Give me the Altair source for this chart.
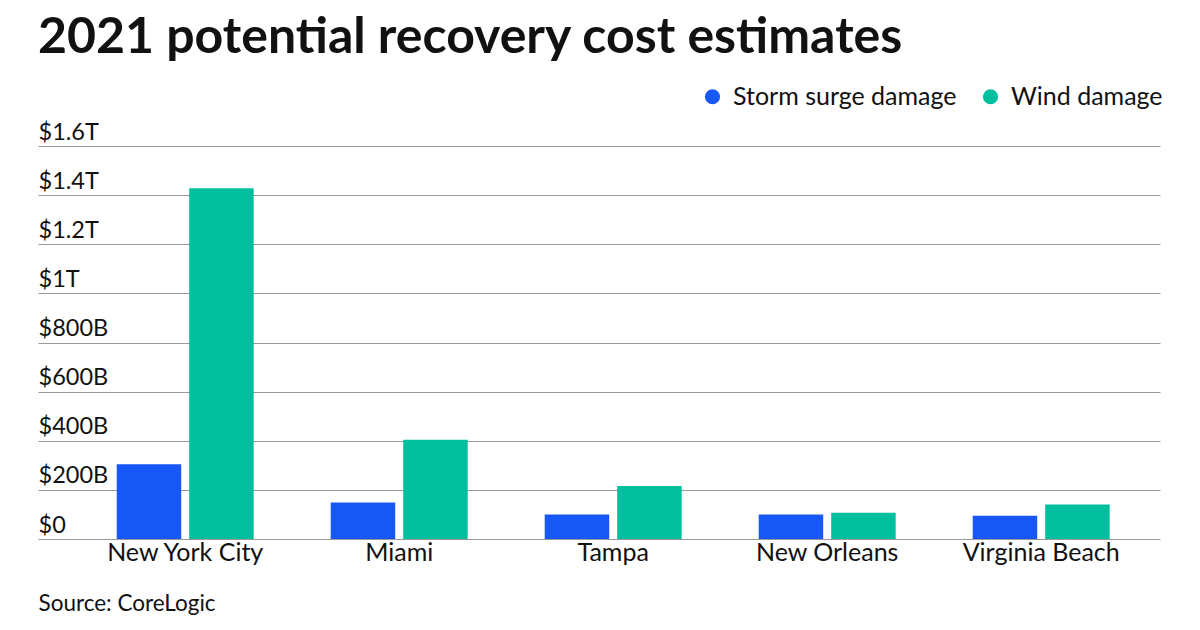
import altair as alt
import pandas as pd

cities = ["New York City", "Miami", "Tampa", "New Orleans", "Virginia Beach"]
series = ["Storm surge damage", "Wind damage"]
storm_surge = [304, 149, 100, 100, 95]      # billions USD
wind = [1428, 404, 216, 107, 140]           # billions USD
colors = ["#1757F5", "#00BF9F"]
y_ticks = [0, 200, 400, 600, 800, 1000, 1200, 1400, 1600]

rows = []
for c, s, w in zip(cities, storm_surge, wind):
    rows.append({"city": c, "series": series[0], "value": s})
    rows.append({"city": c, "series": series[1], "value": w})
df = pd.DataFrame(rows)

FONT = "Lato"

chart = alt.Chart(df).mark_bar().encode(
    x=alt.X("city:N", sort=cities,
            scale=alt.Scale(paddingInner=0.36, paddingOuter=0.3015, align=0.61),
            axis=alt.Axis(title="Source: CoreLogic", labelAngle=0, labelFontSize=25,
                          labelPadding=1, labelColor="#111", domain=False, ticks=False,
                          labelLimit=400,
                          titleX=0, titleAlign="left", titleAnchor="start",
                          titleFontSize=22.5, titleFontWeight="normal",
                          titleColor="#111", titlePadding=27)),
    xOffset=alt.XOffset("series:N", sort=series,
                        scale=alt.Scale(paddingInner=0.11)),
    y=alt.Y("value:Q", scale=alt.Scale(domain=[0, 1600], nice=False),
            axis=alt.Axis(title=None, values=y_ticks, orient="left",
                          labelExpr="datum.value == 0 ? '$0' : (datum.value < 1000 ? '$' + datum.value + 'B' : '$' + (datum.value / 1000) + 'T')",
                          labelAlign="left", labelBaseline="alphabetic", labelPadding=0,
                          labelOffset=-7, tickSize=0, ticks=False, domain=False,
                          labelFontSize=23.5, labelColor="#111",
                          grid=True, gridColor="#999999", gridWidth=1.2)),
    color=alt.Color("series:N", sort=series,
                    scale=alt.Scale(domain=series, range=colors),
                    legend=alt.Legend(title=None, orient="none", legendX=662, legendY=-62,
                                      direction="horizontal", symbolType="circle",
                                      symbolSize=230, symbolStrokeWidth=0,
                                      labelFontSize=25, labelColor="#111", labelLimit=400,
                                      labelOffset=8, columnPadding=21)),
).properties(
    width=1122,
    height=393,
    padding={"left": 30, "top": 5, "right": 5, "bottom": 5},
    title=alt.TitleParams("2021 potential recovery cost estimates", anchor="start",
                          fontSize=50, fontWeight="bold", font=FONT, color="#111",
                          offset=21),
).configure(
    font=FONT,
).configure_view(
    stroke=None,
)

chart.save("out.html", embed_options={"renderer": "svg", "actions": False})
